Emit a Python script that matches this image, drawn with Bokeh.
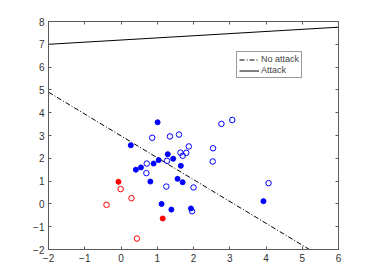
from bokeh.plotting import figure
from bokeh.models import Range1d, LinearAxis, FixedTicker, Legend, LegendItem
from bokeh.embed import file_html
from bokeh.resources import INLINE

# Data
blue_filled_x = [1.01, 0.27, 1.29, 1.04, 1.44, 0.90, 1.65, 0.55, 0.41, 0.81, 1.56, 1.70, 1.12, 1.39, 1.93, 3.93]
blue_filled_y = [3.58, 2.57, 2.18, 1.92, 1.98, 1.77, 1.67, 1.60, 1.50, 0.98, 1.10, 0.95, 0.00, -0.25, -0.20, 0.12]
blue_open_x = [2.77, 3.07, 0.86, 1.35, 1.60, 1.87, 1.64, 1.80, 1.70, 2.54, 2.53, 1.27, 0.71, 0.70, 1.25, 2.00, 1.96, 4.07]
blue_open_y = [3.51, 3.68, 2.90, 2.96, 3.04, 2.52, 2.25, 2.24, 2.11, 2.44, 1.86, 1.89, 1.77, 1.35, 0.76, 0.72, -0.32, 0.91]
red_filled_x = [1.15, -0.07]
red_filled_y = [-0.64, 0.97]
red_open_x = [-0.01, 0.29, -0.40, 0.44]
red_open_y = [0.65, 0.25, -0.04, -1.52]
no_attack_x = [-2.0, 5.2]
no_attack_y = [4.9, -2.0]
attack_x = [-2.0, 6.0]
attack_y = [7.0, 7.75]
x_ticks = [-2, -1, 0, 1, 2, 3, 4, 5, 6]
y_ticks = [-2, -1, 0, 1, 2, 3, 4, 5, 6, 7, 8]

p = figure(width=374, height=280, output_backend="svg", toolbar_location=None,
           x_range=Range1d(-2, 6), y_range=Range1d(-2, 8),
           min_border_left=48, min_border_right=36, min_border_top=21, min_border_bottom=31,
           x_axis_location=None, y_axis_location=None)
p.xgrid.visible = False
p.ygrid.visible = False
p.background_fill_color = "white"
p.border_fill_color = "white"
p.outline_line_color = "#5a5a5a"
p.outline_line_width = 1

axis_color = "#5a5a5a"
for loc, ticks, show in [("below", x_ticks, True), ("above", x_ticks, False),
                         ("left", y_ticks, True), ("right", y_ticks, False)]:
    ax = LinearAxis(ticker=FixedTicker(ticks=ticks))
    ax.axis_line_color = axis_color
    ax.major_tick_line_color = axis_color
    ax.major_tick_in = 3
    ax.major_tick_out = 0
    ax.minor_tick_line_color = None
    ax.major_label_text_font = "Liberation Sans"
    ax.major_label_text_font_size = "10px"
    ax.major_label_text_color = "#333333"
    ax.major_label_standoff = 4
    if not show:
        ax.major_label_overrides = {t: "" for t in ticks}
        ax.major_label_standoff = 0
    p.add_layout(ax, loc)

r1 = p.line(no_attack_x, no_attack_y, line_color="black", line_width=1, line_dash="5 2 1 2")
r2 = p.line(attack_x, attack_y, line_color="black", line_width=1)

p.scatter(blue_filled_x, blue_filled_y, size=5, fill_color="#0000ff", line_color="#0000ff")
p.scatter(blue_open_x, blue_open_y, size=5.5, fill_color=None, line_color="#0000ff", line_width=1)
p.scatter(red_filled_x, red_filled_y, size=5, fill_color="#ff0000", line_color="#ff0000")
p.scatter(red_open_x, red_open_y, size=5.5, fill_color=None, line_color="#ff0000", line_width=1)

legend = Legend(items=[LegendItem(label="No attack", renderers=[r1]),
                       LegendItem(label="Attack", renderers=[r2])],
                location=(188, 171))
legend.label_text_font = "Liberation Sans"
legend.label_text_font_size = "9px"
legend.label_height = 9
legend.glyph_height = 9
legend.glyph_width = 20
legend.label_standoff = 2
legend.padding = 2
legend.spacing = 1
legend.margin = 0
legend.border_line_color = "#333333"
legend.border_line_width = 1
legend.background_fill_alpha = 1
p.add_layout(legend, "center")

open("out.html", "w").write(file_html(p, INLINE))
